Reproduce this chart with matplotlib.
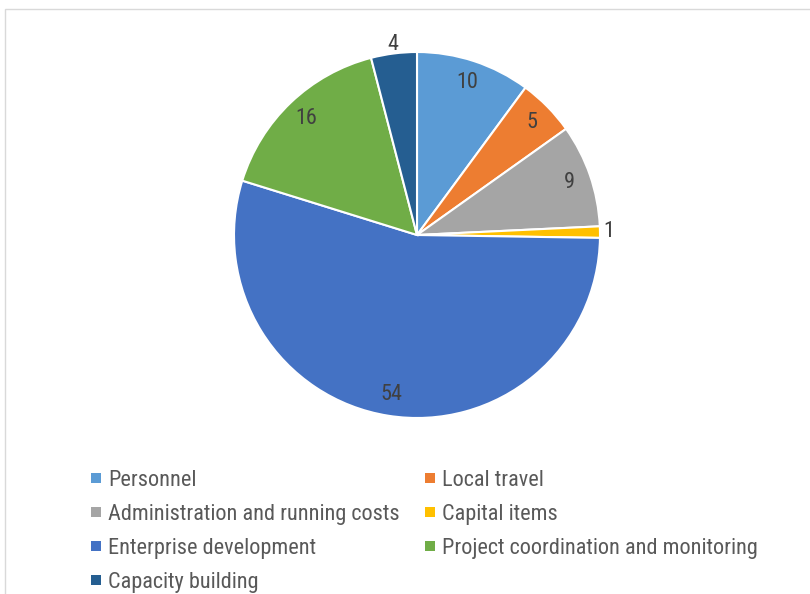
import matplotlib
matplotlib.use("Agg")
import matplotlib.pyplot as plt
from matplotlib.patches import Rectangle
from matplotlib import font_manager
import numpy as np

categories = ["Personnel", "Local travel", "Administration and running costs",
              "Capital items", "Enterprise development",
              "Project coordination and monitoring", "Capacity building"]
values = [10, 5, 9, 1, 54, 16, 4]
colors = ["#5B9BD5", "#ED7D31", "#A5A5A5", "#FFC000", "#4472C4", "#70AD47", "#255E91"]

names = {f.name for f in font_manager.fontManager.ttflist}
preferred = ["Liberation Sans Narrow", "Arial Narrow", "Roboto Condensed",
             "Archivo Narrow", "PT Sans Narrow", "Liberation Sans"]
family = next(f for f in preferred if f in names)
plt.rcParams["font.family"] = [family, "DejaVu Sans"]
label_color = "#404040"
legend_color = "#595959"
FS = 16

W, H = 810, 594
fig = plt.figure(figsize=(W / 100, H / 100), dpi=100)

# light chart-area frame
fig.patches.append(Rectangle((5 / W, -0.1), 1.2, (H - 9) / H + 0.1, transform=fig.transFigure,
                             fill=False, edgecolor="#D9D9D9", linewidth=1.0))

cx, cy, r = 417, 235, 183
ax = fig.add_axes([(cx - r) / W, (H - cy - r) / H, 2 * r / W, 2 * r / H])
wedges, _ = ax.pie(values, colors=colors, startangle=90, counterclock=False, radius=1,
                   wedgeprops=dict(edgecolor="white", linewidth=1.5))
ax.set_xlim(-1, 1)
ax.set_ylim(-1, 1)
ax.set_aspect("equal")
ax.axis("off")

total = sum(values)
cum = 0
for v in values:
    mid = 90 - (cum + v / 2) / total * 360
    cum += v
    d = 1.05 if v < 5 else 0.88
    ang = np.deg2rad(mid)
    ax.text(d * np.cos(ang), d * np.sin(ang), str(v), ha="center", va="center",
            fontsize=FS, color=label_color)

# legend, filled row by row across two columns
col_x = [91, 425]
row_y0, row_dy = 478, 34
sq = 10
for i, (name, c) in enumerate(zip(categories, colors)):
    row, col = divmod(i, 2)
    x = col_x[col]
    y = row_y0 + row * row_dy
    fig.patches.append(Rectangle((x / W, 1 - (y + sq / 2) / H), sq / W, sq / H,
                                 transform=fig.transFigure, facecolor=c, edgecolor="none"))
    fig.text((x + sq + 7) / W, 1 - y / H, name, ha="left", va="center_baseline",
             fontsize=FS, color=legend_color)

fig.savefig("out.png", dpi=100)
